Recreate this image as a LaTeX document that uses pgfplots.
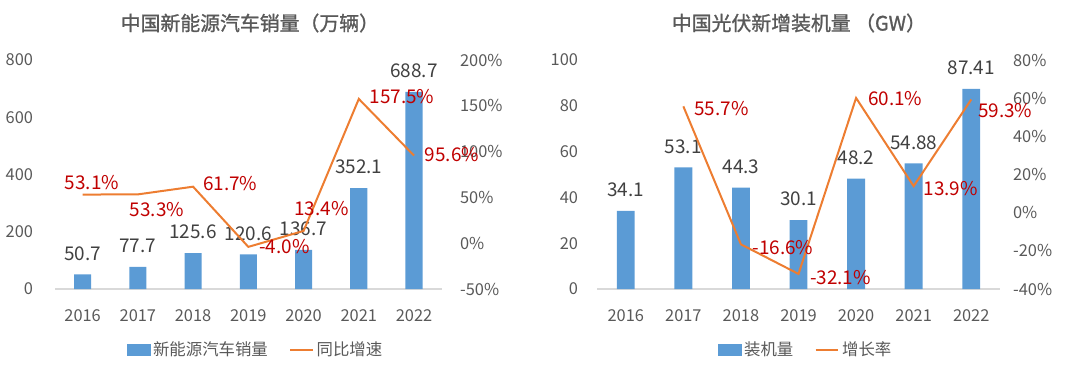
\documentclass[border=0pt]{standalone}
\usepackage{pgfplots}
\usepackage{pgfplotstable}
\pgfplotsset{compat=1.18}
\usepackage{fontspec}
\setmainfont{Noto Sans CJK SC}
\newfontfamily\titlefam[FakeBold=1.2]{Noto Sans CJK SC}
\definecolor{barblue}{HTML}{5B9BD5}
\definecolor{lineorange}{HTML}{ED7D31}
\definecolor{labred}{HTML}{C00000}
\definecolor{ticgray}{HTML}{595959}
\definecolor{valgray}{HTML}{404040}
\definecolor{axgray}{HTML}{D9D9D9}
\newcommand\tickfont{\fontsize{12.3}{14}\selectfont}
\newcommand\valfont{\fontsize{14.2}{16}\selectfont}
\newcommand\titlefont{\titlefam\fontsize{14.9}{17}\selectfont}

\pgfplotstableread{
x v
0 50.7
1 77.7
2 125.6
3 120.6
4 136.7
5 352.1
6 688.7
}\evbars
\pgfplotstableread{
x g dx dy
0 53.1 7.1 9
1 53.3 14.3 -11.3
2 61.7 27.8 2.3
3 -4.0 27 0
4 13.4 13.5 16.5
5 157.5 32.3 1.5
6 95.6 28.5 0.8
}\evgrowth
\pgfplotstableread{
x v
0 34.1
1 53.1
2 44.3
3 30.1
4 48.2
5 54.88
6 87.41
}\pvbars
\pgfplotstableread{
x g dx dy
1 55.7 28.5 -2
2 -16.6 31.5 -2.3
3 -32.1 31.5 -2.6
4 60.1 29.3 -0.8
5 13.9 27.8 -1.5
6 59.3 25.5 -8
}\pvgrowth

\pgfplotsset{
  /pgf/number format/assume math mode=true,
  every axis title shift=0pt,
  common/.style={
    scale only axis, height=171.75pt,
    xmin=-0.5, xmax=6.5, clip=false,
    major tick length=0pt,
    tick style={draw=none},
    tick label style={font=\tickfont, text=ticgray},
  },
  baraxis/.style={
    common,
    axis x line*=bottom, axis y line*=left,
    x axis line style={draw=axgray, line width=0.8pt, -},
    y axis line style={draw=none},
    xtick={0,...,6}, xticklabels={2016,2017,2018,2019,2020,2021,2022},
    xticklabel style={yshift=-11.6pt},
    ybar, bar width=0.31,
    nodes near coords,
    nodes near coords style={font=\valfont, text=valgray, anchor=center, yshift=15.75pt},
    title style={font=\titlefont, text=ticgray, anchor=center, at={(0.5,1.1616)}},
  },
  lineaxis/.style={
    common,
    axis y line*=right, axis x line=none,
    y axis line style={draw=none},
    yticklabel={\pgfmathprintnumber{\tick}\%},
    legend style={draw=none, fill=none, font=\tickfont, text=ticgray,
      legend columns=2, anchor=center,
      /tikz/every even column/.append style={column sep=14pt},
      nodes={inner xsep=2pt}},
  },
  barlegend/.style={legend image code/.code={\fill[barblue] (0pt,-4pt) rectangle (17pt,4pt);}},
  linelegend/.style={legend image code/.code={\draw[lineorange, line width=1.5pt] (0pt,0pt) -- (18pt,0pt);}},
  growthplot/.style={lineorange, line width=1.5pt, mark=none,
    visualization depends on={\thisrow{dx} \as \dx},
    visualization depends on={\thisrow{dy} \as \dy},
    nodes near coords={\pgfmathprintnumber[fixed,fixed zerofill,precision=1]{\pgfplotspointmeta}\%},
    nodes near coords style={anchor=center, xshift=\dx pt, yshift=\dy pt, text=labred, font=\valfont}},
}

\begin{document}
\begin{tikzpicture}
\useasboundingbox (0,0) rectangle (810pt,278.25pt);

% ---------- Left panel ----------
\begin{axis}[baraxis,
  at={(41.25pt,61.5pt)}, anchor=south west, width=290pt,
  ymin=0, ymax=800, ytick={0,200,400,600,800},
  yticklabel style={xshift=-13pt},
  title={中国新能源汽车销量（万辆）},
  title style={at={(0.504,1.1616)}},
]
\addplot[fill=barblue, draw=none] table[x=x,y=v]{\evbars};
\end{axis}
\begin{axis}[lineaxis,
  at={(41.25pt,61.5pt)}, anchor=south west, width=290pt,
  ymin=-50, ymax=200, ytick={-50,0,50,100,150,200},
  yticklabel style={xshift=10.3pt},
  legend style={at={(0.52,-0.266)}},
]
\addlegendimage{barlegend}
\addlegendentry{新能源汽车销量}
\addplot[growthplot] table[x=x,y=g]{\evgrowth};
\addlegendentry{同比增速}
\end{axis}

% ---------- Right panel ----------
\begin{axis}[baraxis,
  at={(447.75pt,61.5pt)}, anchor=south west, width=302.25pt,
  ymin=0, ymax=100, ytick={0,20,40,60,80,100},
  yticklabel style={xshift=-10.7pt},
  title={中国光伏新增装机量 （GW）},
  title style={at={(0.501,1.1616)}},
]
\addplot[fill=barblue, draw=none] table[x=x,y=v]{\pvbars};
\end{axis}
\begin{axis}[lineaxis,
  at={(447.75pt,61.5pt)}, anchor=south west, width=302.25pt,
  ymin=-40, ymax=80, ytick={-40,-20,0,20,40,60,80},
  yticklabel style={xshift=6.3pt},
  legend style={at={(0.519,-0.266)}},
]
\addlegendimage{barlegend}
\addlegendentry{装机量}
\addplot[growthplot] table[x=x,y=g]{\pvgrowth};
\addlegendentry{增长率}
\end{axis}
\end{tikzpicture}
\end{document}
